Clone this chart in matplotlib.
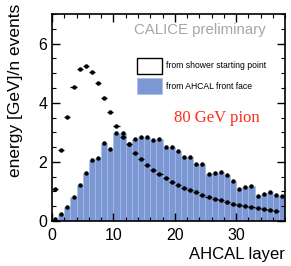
import numpy as np
import matplotlib
matplotlib.use('Agg')
import matplotlib.pyplot as plt
from matplotlib.patches import Patch
from matplotlib.ticker import MultipleLocator

plt.rcParams['font.family'] = ['Liberation Sans', 'DejaVu Sans']

# energy per layer, counted from the AHCAL front face (histogram)
front_face = [0.07, 0.25, 0.46, 0.80, 1.21, 1.64, 2.08, 2.13, 2.65, 2.44,
              2.97, 2.97, 2.62, 2.78, 2.84, 2.84, 2.75, 2.76, 2.50, 2.50,
              2.37, 2.17, 2.17, 1.92, 1.94, 1.60, 1.64, 1.66, 1.57, 1.35,
              1.08, 1.15, 1.18, 0.84, 0.93, 0.99, 0.89, 0.86]

# energy per layer, counted from the shower starting point
shower_start = [1.10, 2.41, 3.51, 4.52, 5.14, 5.25, 5.03, 4.66, 4.15, 3.70,
                3.23, 2.85, 2.60, 2.30, 2.09, 1.89, 1.72, 1.58, 1.44, 1.32,
                1.21, 1.12, 1.04, 0.97, 0.88, 0.82, 0.76, 0.71, 0.64, 0.59,
                0.55, 0.52, 0.48, 0.45, 0.42, 0.37, 0.34]

layers_front = np.arange(len(front_face))
layers_start = np.arange(len(shower_start))

blue = '#7b98d4'

fig = plt.figure(figsize=(2.91, 2.66), dpi=100)
ax = fig.add_axes([0.179, 0.169, 0.801, 0.778])

ax.bar(layers_front, front_face, width=1.0, align='edge', color=blue,
       edgecolor='#a9bce6', linewidth=0.4)
ax.plot(layers_front + 0.5, front_face, 'o', ms=2.2, color='black')
ax.errorbar(layers_start + 0.5, shower_start, xerr=0.5, fmt='o', ms=2.2,
            color='black', elinewidth=0.9, capsize=0)

ax.set_xlim(0, 38)
ax.set_ylim(0, 7)
ax.xaxis.set_major_locator(MultipleLocator(10))
ax.xaxis.set_minor_locator(MultipleLocator(2))
ax.yaxis.set_major_locator(MultipleLocator(2))
ax.yaxis.set_minor_locator(MultipleLocator(0.5))
ax.tick_params(which='both', direction='in', top=True, right=True, labelsize=11.5)
ax.tick_params(which='major', length=5.5, width=1.0)
ax.tick_params(which='minor', length=3, width=0.8)
ax.tick_params(axis='x', pad=5)
for s in ax.spines.values():
    s.set_linewidth(1.2)

ax.set_xlabel('AHCAL layer', fontsize=12, loc='right', labelpad=3)
ax.set_ylabel('energy [GeV]/n events', fontsize=12.5, loc='top')
ax.yaxis.set_label_coords(-0.125, 1.05)

ax.text(0.918, 0.955, 'CALICE preliminary', transform=ax.transAxes,
        ha='right', va='top', fontsize=10.8, color='#a6a6a6')
ax.text(0.525, 0.5, '80 GeV pion', transform=ax.transAxes, ha='left',
        va='center', fontsize=12, color='#ff2a1a', family='Liberation Serif')

handles = [Patch(facecolor='white', edgecolor='black', linewidth=1.0),
           Patch(facecolor=blue, edgecolor='#a9bce6', linewidth=0.5)]
ax.legend(handles, ['from shower starting point', 'from AHCAL front face'],
          loc='upper left', bbox_to_anchor=(0.363, 0.79), frameon=False,
          fontsize=6.2, handlelength=2.9, handleheight=2.5, handletextpad=0.5,
          labelspacing=0.55, borderpad=0, borderaxespad=0)

fig.savefig('out.png', dpi=100)
